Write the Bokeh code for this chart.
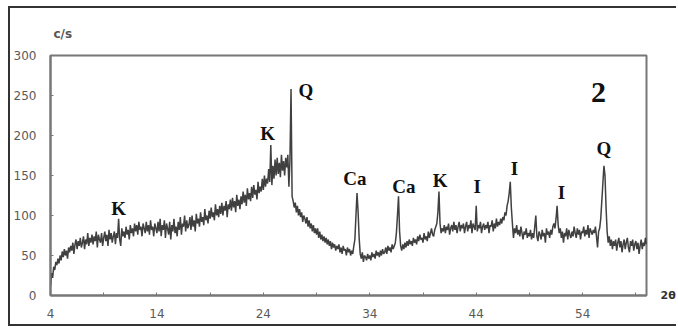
import numpy as np
from bokeh.plotting import figure
from bokeh.models import ColumnDataSource, FixedTicker, Label, Range1d, LinearAxis
from bokeh.core.properties import value
from bokeh.embed import file_html
from bokeh.resources import INLINE

# XRD pattern, 2-theta from 4 to 60 in steps of 0.1 (counts per second)
start_2theta = 4.0
step_2theta = 0.1
counts = [
    12, 28, 22, 36, 32, 42, 38, 46, 40, 50,
    44, 55, 48, 58, 50, 56, 46, 60, 54, 62,
    56, 66, 52, 64, 70, 58, 68, 62, 72, 60,
    66, 74, 58, 70, 64, 78, 62, 72, 66, 76,
    64, 74, 68, 80, 60, 76, 70, 66, 78, 62,
    72, 80, 68, 76, 62, 82, 70, 78, 66, 74,
    80, 64, 78, 72, 96, 70, 62, 84, 74, 80,
    72, 86, 76, 82, 70, 88, 78, 84, 74, 90,
    80, 88, 76, 92, 82, 86, 74, 90, 84, 78,
    92, 80, 88, 76, 94, 82, 86, 74, 90, 84,
    78, 92, 80, 96, 74, 88, 82, 94, 72, 90,
    84, 76, 92, 70, 88, 80, 96, 78, 86, 74,
    92, 82, 98, 76, 90, 86, 100, 80, 94, 84,
    88, 98, 82, 100, 86, 94, 80, 102, 90, 96,
    86, 104, 92, 98, 88, 108, 94, 100, 90, 106,
    96, 110, 98, 104, 94, 114, 100, 108, 98, 112,
    102, 116, 100, 112, 106, 118, 98, 114, 108, 120,
    106, 122, 110, 118, 104, 126, 112, 120, 108, 124,
    114, 130, 116, 126, 112, 134, 120, 128, 118, 136,
    122, 138, 126, 132, 120, 142, 128, 136, 130, 146,
    132, 150, 136, 146, 140, 158, 142, 188, 138, 162,
    146, 170, 150, 172, 152, 166, 148, 176, 156, 168,
    150, 172, 160, 176, 136, 170, 258, 124, 118, 110,
    116, 104, 112, 100, 108, 98, 104, 92, 100, 96,
    90, 98, 86, 94, 84, 90, 80, 88, 78, 84,
    76, 84, 72, 80, 70, 76, 68, 74, 66, 72,
    64, 70, 62, 68, 58, 66, 60, 64, 56, 62,
    58, 64, 54, 60, 52, 62, 56, 58, 50, 60,
    54, 58, 50, 56, 52, 62, 70, 100, 128, 105,
    72, 52, 46, 54, 42, 50, 48, 44, 52, 46,
    50, 44, 54, 48, 52, 46, 56, 50, 54, 48,
    56, 50, 58, 52, 54, 60, 52, 62, 56, 60,
    54, 64, 58, 62, 66, 78, 100, 124, 80, 62,
    56, 64, 58, 66, 60, 68, 62, 70, 64, 68,
    62, 72, 66, 70, 64, 74, 68, 76, 70, 72,
    66, 78, 70, 74, 68, 80, 72, 78, 84, 76,
    74, 82, 86, 90, 104, 130, 90, 78, 84, 80,
    88, 78, 86, 82, 90, 76, 84, 88, 80, 92,
    82, 88, 78, 86, 92, 80, 88, 84, 90, 78,
    86, 92, 80, 88, 84, 94, 78, 90, 86, 82,
    112, 80, 88, 84, 92, 78, 86, 90, 82, 88,
    84, 92, 78, 88, 86, 94, 80, 90, 84, 96,
    86, 92, 88, 96, 90, 98, 94, 104, 100, 112,
    118, 128, 142, 110, 90, 72, 84, 78, 88, 76,
    82, 74, 86, 78, 70, 80, 76, 84, 72, 78,
    74, 82, 70, 78, 72, 86, 100, 74, 68, 80,
    76, 70, 82, 74, 78, 66, 84, 76, 80, 72,
    82, 76, 86, 90, 84, 96, 112, 88, 78, 84,
    72, 80, 66, 78, 74, 84, 70, 82, 76, 72,
    80, 74, 86, 78, 72, 84, 76, 82, 70, 80,
    78, 86, 74, 82, 76, 88, 72, 84, 80, 76,
    82, 78, 86, 74, 60, 80, 84, 96, 118, 140,
    162, 150, 110, 80, 66, 74, 62, 70, 58, 68,
    62, 70, 56, 66, 72, 60, 68, 54, 64, 70,
    58, 66, 72, 60, 54, 68, 62, 70, 56, 64,
    68, 58, 66, 52, 62, 70, 58, 66, 62, 72,
    64,
]
two_theta = np.round(start_2theta + step_2theta * np.arange(len(counts)), 1)

x_ticks = [4, 14, 24, 34, 44, 54]
x_minor = [9, 19, 29, 39, 49, 59]
y_ticks = [0, 50, 100, 150, 200, 250, 300]

peak_names = ["K", "K", "Q", "Ca", "Ca", "K", "I", "I", "I", "Q"]
peak_x = [10.4, 24.4, 28.0, 32.6, 37.2, 40.6, 44.1, 47.6, 52.0, 56.0]
peak_y = [109, 203, 256, 146, 136, 144, 136, 159, 129, 184]

p = figure(width=668, height=320, output_backend="svg", toolbar_location=None,
           x_range=Range1d(4, 60), y_range=Range1d(0, 300),
           min_border_left=40, min_border_right=26, min_border_top=47, min_border_bottom=33,
           title="c/s")
p.styles = {"border": "2px solid #333", "border-right-style": "none",
            "margin-left": "8px", "margin-top": "6px"}
p.background_fill_color = "white"
p.border_fill_color = "white"
p.outline_line_color = "#777777"
p.outline_line_width = 2
p.xgrid.visible = False
p.ygrid.visible = False

p.title.align = "left"
p.title.offset = 3
p.title.standoff = 30
p.title.text_font = "DejaVu Sans"
p.title.text_font_style = "bold"
p.title.text_font_size = "12px"
p.title.text_color = "#555555"

p.line(two_theta, counts, line_color="#1e1e1e", line_width=1.5, line_alpha=0.85)

src = ColumnDataSource(dict(x=peak_x, y=peak_y, t=peak_names))
p.text("x", "y", text="t", source=src, text_font=value("Liberation Serif"),
       text_font_style="bold", text_font_size="19px", text_color="#111111",
       text_align="center", text_baseline="middle")

p.add_layout(Label(x=55.5, y=254, text="2", text_font="Liberation Serif",
                   text_font_style="bold", text_font_size="30px", text_color="#111111",
                   text_align="center", text_baseline="middle"))

for ax in (p.xaxis[0], p.yaxis[0]):
    ax.axis_line_color = "#777777"
    ax.axis_line_width = 2
    ax.major_tick_line_color = "#777777"
    ax.minor_tick_line_color = "#777777"
    ax.major_tick_in = 3
    ax.major_tick_out = 0
    ax.minor_tick_in = 3
    ax.minor_tick_out = 0
    ax.major_label_text_font = "DejaVu Sans"
    ax.major_label_text_font_size = "12px"
    ax.major_label_text_color = "#5a5a5a"

p.xaxis.ticker = FixedTicker(ticks=x_ticks, minor_ticks=x_minor)
p.yaxis.ticker = FixedTicker(ticks=y_ticks)
p.yaxis.major_label_standoff = 14
p.xaxis.major_label_standoff = 13

theta_axis = LinearAxis(ticker=FixedTicker(ticks=[0]), major_label_overrides={0: "2θ"},
                        axis_line_color=None, major_tick_line_color=None,
                        minor_tick_line_color=None, major_label_standoff=8,
                        major_label_text_font="DejaVu Sans", major_label_text_font_style="bold",
                        major_label_text_font_size="11px", major_label_text_color="#333333")
p.add_layout(theta_axis, "right")

open("out.html", "w").write(file_html(p, INLINE))
